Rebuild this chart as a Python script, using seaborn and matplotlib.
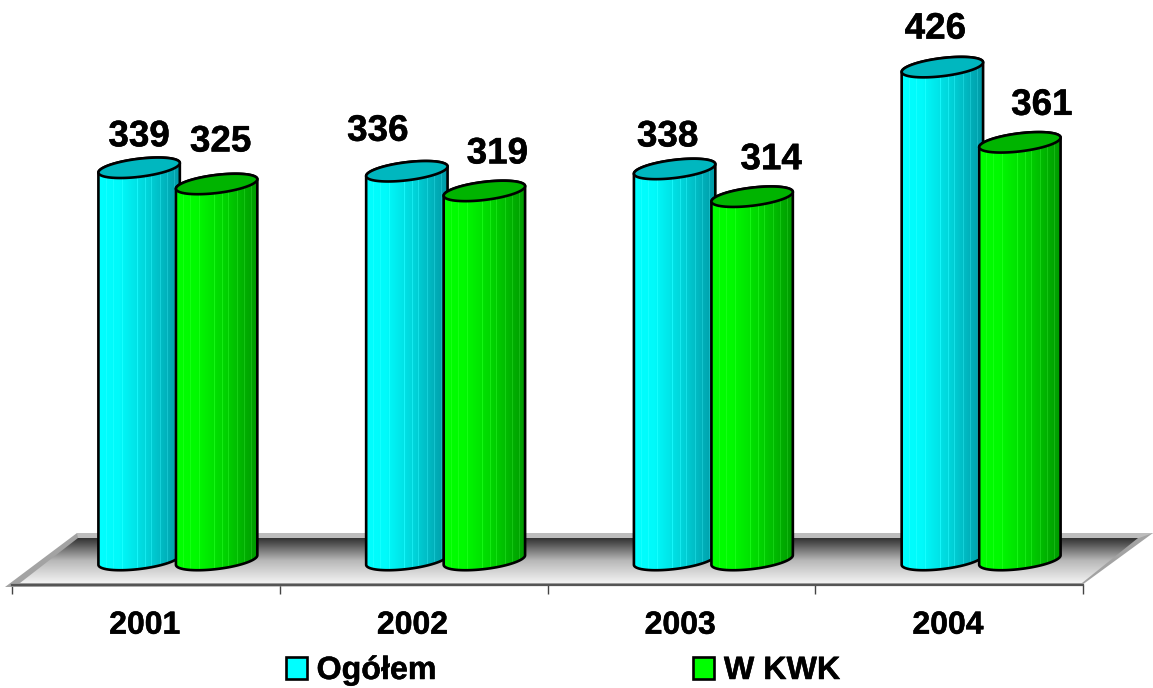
import numpy as np
import pandas as pd
import matplotlib
matplotlib.use("Agg")
import matplotlib.pyplot as plt
import matplotlib.patheffects as pe
from matplotlib.patches import Patch, Polygon
import seaborn as sns

# chart values
years = ["2001", "2002", "2003", "2004"]
ogolem = [339, 336, 338, 426]
w_kwk = [325, 319, 314, 361]
series_names = ["Ogółem", "W KWK"]

# vertical nudges of the value labels and their sideways shift, in pixels
label_lift = [[31, 42], [40, 37], [32, 37], [38, 37]]
label_side = [[0, 4], [-29, 13], [-7, 19], [-7, 22]]

W, H = 1153, 688
AX_LEFT, AX_RIGHT, AX_BASE = 12, 1083, 585
ZERO_PX = 560
PX_PER_UNIT = 1.157
PX_PER_CAT = (AX_RIGHT - AX_LEFT) / 4
DEPTH_SHIFT = 32 / PX_PER_CAT

sns.set_theme(style="white")
plt.rcParams["font.family"] = ["Liberation Sans", "DejaVu Sans"]
plt.rcParams["font.weight"] = "bold"

fig = plt.figure(figsize=(W / 100, H / 100), dpi=100)
ax = fig.add_axes([AX_LEFT / W, 1 - AX_BASE / H, (AX_RIGHT - AX_LEFT) / W, AX_BASE / H])

df = pd.DataFrame({
    "rok": years * 2,
    "liczba": ogolem + w_kwk,
    "seria": [series_names[0]] * 4 + [series_names[1]] * 4,
})
sns.barplot(data=df, x="rok", y="liczba", hue="seria", order=years,
            hue_order=series_names, width=0.579, gap=0, legend=False, ax=ax,
            palette=["#00FFFF", "#00FF00"])

xlim = (-0.5, 3.5)
ylim = (-(AX_BASE - ZERO_PX) / PX_PER_UNIT, ZERO_PX / PX_PER_UNIT)
heavy = [pe.withStroke(linewidth=0.35, foreground="black")]


def px(x, y):
    """Figure pixel (y downward) to data coordinates."""
    return (x - AX_LEFT) / PX_PER_CAT - 0.5, (ZERO_PX - y) / PX_PER_UNIT


def poly(points, **kw):
    p = Polygon([px(*q) for q in points], closed=True, clip_on=False, **kw)
    ax.add_patch(p)
    return p


def gradient_image(rgb_rows, extent, clip, zorder, interpolation="bilinear"):
    im = ax.imshow(rgb_rows, extent=extent, aspect="auto", origin="upper",
                   interpolation=interpolation, zorder=zorder)
    im.set_clip_box(fig.bbox)
    im.set_clip_path(clip)
    return im


# floor of the plot
poly([(5, 587), (77, 533), (1153, 533), (1082, 585)], facecolor="#A3A3A3",
     edgecolor="none", zorder=1)
poly([(77, 533), (1153, 533), (1139, 538), (78, 538)], facecolor="#BDBDBD",
     edgecolor="none", zorder=1.1)
floor = poly([(20, 583), (78, 538), (1138, 538), (1082, 583)],
             facecolor="none", edgecolor="none", zorder=1.2)
shade = np.interp(np.linspace(0, 1, 64), [0, 0.1, 0.5, 1], [0.2, 0.3, 0.72, 0.95])
floor_rgb = np.repeat(shade[:, None, None], 3, axis=2)
x0, y_top = px(0, 538)
x1, y_bot = px(W, 583)
gradient_image(floor_rgb, (x0, x1, y_bot, y_top), floor, 1.3)


def shaded_strip(left, right, stripes=(0.1, 0.19, 0.3, 0.47, 0.58, 0.66, 0.76, 0.85, 0.93)):
    t = np.linspace(0, 1, 84)
    left, right = np.array(left, float), np.array(right, float)
    ramp = np.interp(t, [0, 0.25, 0.6, 1], [0, 0.05, 0.42, 1])[:, None]
    rgb = left * (1 - ramp) + right * ramp
    for s in stripes:
        k = int(s * 83)
        rgb[k] = np.minimum(rgb[k] + 0.08, 1)
    return rgb[None, :, :]


SERIES_STYLE = [
    dict(left=(0, 1, 1), right=(0, 0.6, 0.65), cap="#00B7BF"),
    dict(left=(0, 1, 0), right=(0, 0.6, 0), cap="#00B400"),
]
A_PX, B_PX = 41.0, 9.0
TILT = np.deg2rad(7)


def ellipse_arc(t):
    ex = A_PX * np.cos(t) * np.cos(TILT) - B_PX * np.sin(t) * np.sin(TILT)
    ey = A_PX * np.cos(t) * np.sin(TILT) + B_PX * np.sin(t) * np.cos(TILT)
    return ex, ey


t_right = np.arctan2(-B_PX * np.sin(TILT), A_PX * np.cos(TILT))
t_upper = np.linspace(t_right, t_right + np.pi, 60)
t_lower = np.linspace(t_right + np.pi, t_right + 2 * np.pi, 60)

# turn every bar drawn by seaborn into a cylinder standing on the floor
bars = [b for b in ax.patches if isinstance(b, matplotlib.patches.Rectangle)]
for i, bar in enumerate(bars):
    s = i // 4
    style = SERIES_STYLE[s]
    cx = bar.get_x() + bar.get_width() / 2 + DEPTH_SHIFT
    value = bar.get_height()
    bar.set_visible(False)
    z = 3 + s + i % 4 * 0.01
    ux, uy = ellipse_arc(t_upper)
    lx, ly = ellipse_arc(t_lower)
    body_xy = np.r_[np.c_[cx + lx / PX_PER_CAT, ly / PX_PER_UNIT],
                    np.c_[cx + ux / PX_PER_CAT, value + uy / PX_PER_UNIT]]
    body = Polygon(body_xy, closed=True, facecolor="none", edgecolor="black",
                   linewidth=1.9, zorder=z + 0.2, clip_on=False, joinstyle="round")
    ax.add_patch(body)
    half = A_PX / PX_PER_CAT * 1.01
    clip = Polygon(body_xy, closed=True, transform=ax.transData)
    gradient_image(shaded_strip(style["left"], style["right"]),
                   (cx - half, cx + half, -30, value + 20), clip, z, "nearest")
    cx_arc, cy_arc = ellipse_arc(np.linspace(0, 2 * np.pi, 120))
    ax.add_patch(Polygon(np.c_[cx + cx_arc / PX_PER_CAT, value + cy_arc / PX_PER_UNIT],
                         closed=True, facecolor=style["cap"], edgecolor="black",
                         linewidth=1.9, zorder=z + 0.3, clip_on=False))
    ax.annotate(f"{value:.0f}", xy=(cx, value), xycoords="data",
                xytext=(label_side[i % 4][s] * 0.72, label_lift[i % 4][s] * 0.72),
                textcoords="offset points", ha="center", va="center",
                fontsize=26.5, fontweight="bold", color="black", zorder=10,
                annotation_clip=False, path_effects=heavy)

ax.set_xlim(*xlim)
ax.set_ylim(*ylim)
ax.set_xlabel("")
ax.set_ylabel("")
ax.set_yticks([])
ax.set_xticks(np.arange(-0.5, 4, 1))
ax.set_xticklabels([])
ax.set_xticks(np.arange(4) - 0.004, minor=True)
ax.set_xticklabels(years, minor=True, fontsize=23, fontweight="bold", color="black",
                   path_effects=heavy)
ax.tick_params(axis="x", which="major", length=6.5, width=1, color="#444444",
               bottom=True, direction="out")
ax.tick_params(axis="x", which="minor", length=0, pad=18.5)
for name in ("left", "top", "right"):
    ax.spines[name].set_visible(False)
ax.spines["bottom"].set_color("#555555")
ax.spines["bottom"].set_linewidth(1.6)
ax.patch.set_alpha(0)

handles = [Patch(facecolor=c, edgecolor="black", linewidth=1.9) for c in ("#00FFFF", "#00FF00")]
legend = fig.legend(handles, series_names, ncol=2, frameon=False, loc="center",
                    bbox_to_anchor=(563 / W, 1 - 671 / H), prop=dict(size=23.2, weight="bold"),
                    handlelength=0.66, handleheight=0.66, handletextpad=0.3,
                    columnspacing=7.95, borderpad=0, labelcolor="black")
for label in legend.get_texts():
    label.set_path_effects(heavy)

fig.savefig("out.png", dpi=100, facecolor="white")
